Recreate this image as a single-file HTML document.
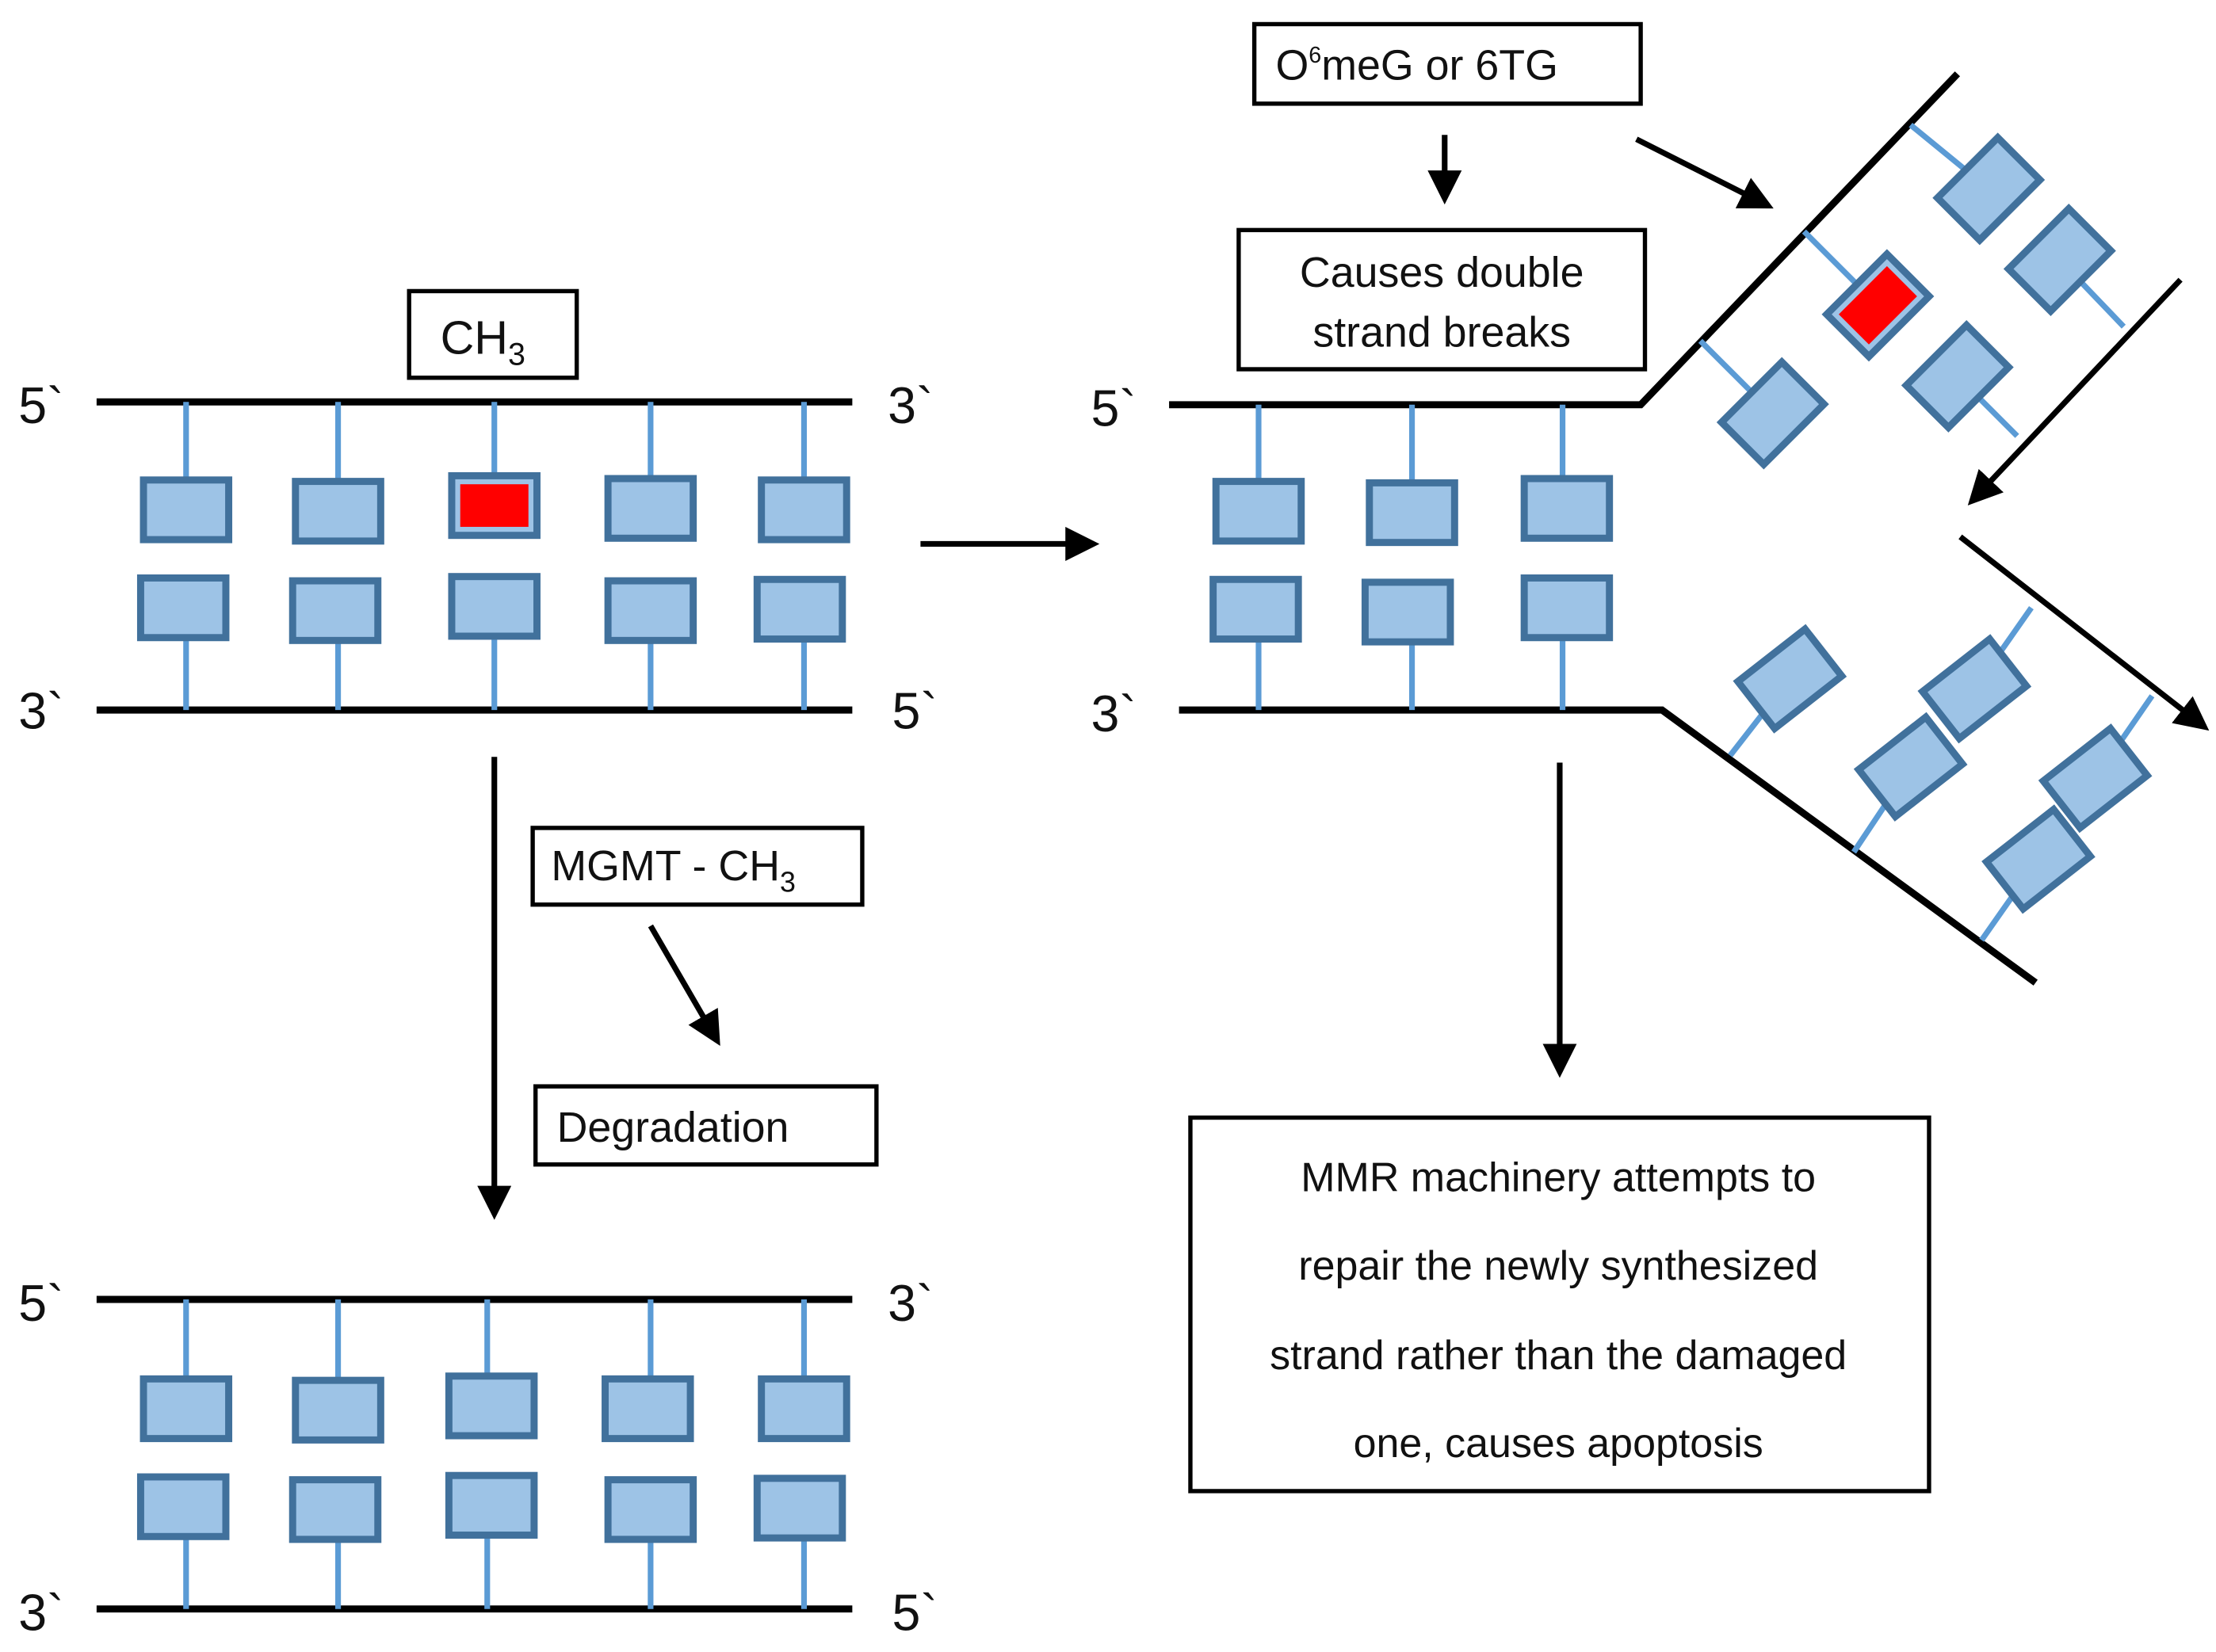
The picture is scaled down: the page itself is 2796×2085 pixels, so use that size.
<!DOCTYPE html>
<html><head><meta charset="utf-8"><style>
html,body{margin:0;padding:0;background:#fff;}
svg{display:block;}
text{font-family:"Liberation Sans",sans-serif;fill:#111;}
</style></head><body>
<svg width="2796" height="2085" viewBox="0 0 1560 1163.3" preserveAspectRatio="none" xmlns="http://www.w3.org/2000/svg">
<defs>
<marker id="ah" markerWidth="6" markerHeight="6" refX="5" refY="3" orient="auto" markerUnits="strokeWidth">
<path d="M0,0 L6,3 L0,6 z" fill="#000"/></marker>
<g id="bx"><rect x="-30" y="-21" width="60" height="42" fill="#9dc3e6" stroke="#41719c" stroke-width="5"/></g>
<g id="bxr"><rect x="-30" y="-21" width="60" height="42" fill="#9dc3e6" stroke="#41719c" stroke-width="5"/><rect x="-24" y="-15" width="48" height="30" fill="#ff0000"/></g>
</defs>
<g stroke="#000" stroke-width="5">
<line x1="68" y1="283" x2="600" y2="283"/><line x1="68" y1="500" x2="600" y2="500"/>
<line x1="68" y1="915" x2="600" y2="915"/><line x1="68" y1="1133" x2="600" y2="1133"/>
<polyline points="823,285 1155,285 1378,52" fill="none"/>
<polyline points="830,500 1170,500 1433,692" fill="none"/>
</g>
<g stroke="#5b9bd5" stroke-width="4">
<path d="M131 283V340M238 283V340M348 283V340M458 283V340M566 283V340M131 450V500M238 450V500M348 450V500M458 450V500M566 450V500"/>
<path d="M131 915V972M238 915V972M343 915V972M458 915V972M566 915V972M131 1083V1133M238 1083V1133M343 1083V1133M458 1083V1133M566 1083V1133"/>
<path d="M886 285V340M994 285V340M1100 285V340M886 450V500M994 450V500M1100 450V500"/>
<line x1="1197" y1="240" x2="1248" y2="291"/><line x1="1270" y1="163" x2="1320" y2="213"/><line x1="1378" y1="265" x2="1420" y2="307"/>
<line x1="1345" y1="88" x2="1400" y2="133"/><line x1="1450" y1="183" x2="1495" y2="230"/>
<line x1="1260" y1="478" x2="1218" y2="532"/><line x1="1390" y1="485" x2="1430" y2="428"/><line x1="1345" y1="540" x2="1305" y2="600"/>
<line x1="1475" y1="548" x2="1515" y2="490"/><line x1="1435" y1="605" x2="1395" y2="662"/>
</g>
<g>
<use href="#bx" x="131" y="359"/><use href="#bx" x="238" y="360"/><use href="#bxr" x="348" y="356"/><use href="#bx" x="458" y="358"/><use href="#bx" x="566" y="359"/>
<use href="#bx" x="129" y="428"/><use href="#bx" x="236" y="430"/><use href="#bx" x="348" y="427"/><use href="#bx" x="458" y="430"/><use href="#bx" x="563" y="429"/>
<use href="#bx" x="131" y="992"/><use href="#bx" x="238" y="993"/><use href="#bx" x="346" y="990"/><use href="#bx" x="456" y="992"/><use href="#bx" x="566" y="992"/>
<use href="#bx" x="129" y="1061"/><use href="#bx" x="236" y="1063"/><use href="#bx" x="346" y="1060"/><use href="#bx" x="458" y="1063"/><use href="#bx" x="563" y="1062"/>
<use href="#bx" x="886" y="360"/><use href="#bx" x="994" y="361"/><use href="#bx" x="1103" y="358"/>
<use href="#bx" x="884" y="429"/><use href="#bx" x="991" y="431"/><use href="#bx" x="1103" y="428"/>
<g transform="translate(1248,291) rotate(-45)"><use href="#bx"/></g>
<g transform="translate(1322,215) rotate(-45)"><use href="#bxr"/></g>
<g transform="translate(1378,265) rotate(-45)"><use href="#bx"/></g>
<g transform="translate(1400,133) rotate(-45)"><use href="#bx"/></g>
<g transform="translate(1450,183) rotate(-45)"><use href="#bx"/></g>
<g transform="translate(1260,478) rotate(-38)"><use href="#bx"/></g>
<g transform="translate(1390,485) rotate(-38)"><use href="#bx"/></g>
<g transform="translate(1345,540) rotate(-38)"><use href="#bx"/></g>
<g transform="translate(1475,548) rotate(-38)"><use href="#bx"/></g>
<g transform="translate(1435,605) rotate(-38)"><use href="#bx"/></g>
</g>
<g stroke="#000" stroke-width="4" fill="none" marker-end="url(#ah)">
<line x1="648" y1="383" x2="770" y2="383"/>
<line x1="348" y1="533" x2="348" y2="855"/>
<line x1="458" y1="652" x2="505" y2="733"/>
<line x1="1017" y1="95" x2="1017" y2="140"/>
<line x1="1152" y1="98" x2="1245" y2="145"/>
<line x1="1535" y1="197" x2="1388" y2="353"/>
<line x1="1380" y1="378" x2="1552" y2="512"/>
<line x1="1098" y1="537" x2="1098" y2="755"/>
</g>
<g fill="#fff" stroke="#000" stroke-width="3">
<rect x="288" y="205" width="118" height="61"/>
<rect x="375" y="583" width="232" height="54"/>
<rect x="377" y="765" width="240" height="55"/>
<rect x="883" y="17" width="272" height="56"/>
<rect x="872" y="162" width="286" height="98"/>
<rect x="838" y="787" width="520" height="263"/>
</g>
<g font-size="33">
<text x="310" y="249">CH<tspan font-size="22" dy="8">3</tspan></text>
<text x="388" y="620" font-size="30">MGMT - CH<tspan font-size="20" dy="8">3</tspan></text>
<text x="392" y="804" font-size="30">Degradation</text>
<text x="898" y="56" font-size="30">O<tspan font-size="16" dy="-12">6</tspan><tspan dy="12">meG or 6TG</tspan></text>
<text x="1015" y="202" font-size="30" text-anchor="middle">Causes double</text>
<text x="1015" y="244" font-size="30" text-anchor="middle">strand breaks</text>
<g font-size="29" text-anchor="middle">
<text x="1097" y="839">MMR machinery attempts to</text>
<text x="1097" y="901">repair the newly synthesized</text>
<text x="1097" y="964">strand rather than the damaged</text>
<text x="1097" y="1026">one, causes apoptosis</text>
</g>
<g font-size="36">
<text x="13" y="298">5`</text><text x="625" y="298">3`</text>
<text x="13" y="513">3`</text><text x="628" y="513">5`</text>
<text x="13" y="930">5`</text><text x="625" y="930">3`</text>
<text x="13" y="1148">3`</text><text x="628" y="1148">5`</text>
<text x="768" y="300">5`</text><text x="768" y="515">3`</text>
</g>
</g>
</svg>
</body></html>
